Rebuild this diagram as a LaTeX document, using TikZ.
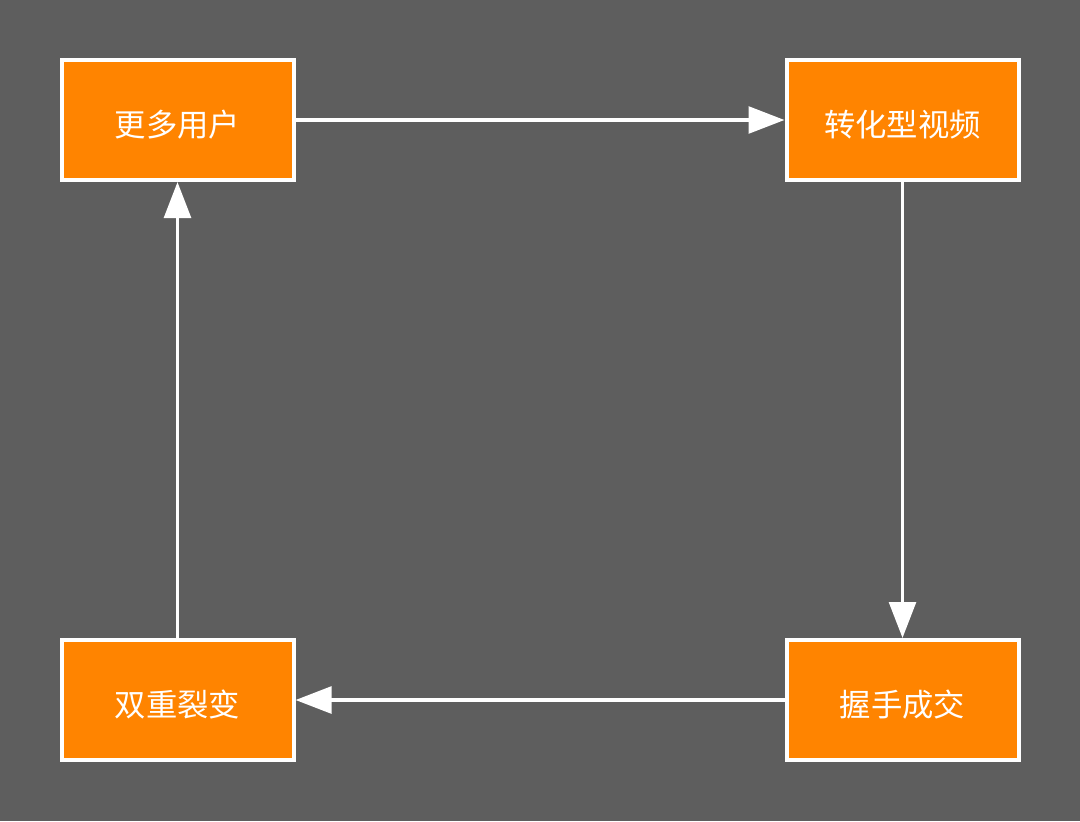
\documentclass[tikz,border=0pt]{standalone}
\usepackage{fontspec}
\newfontfamily\cjk{Noto Sans CJK SC}
\usetikzlibrary{arrows.meta}
\definecolor{bg}{HTML}{5E5E5E}
\definecolor{boxfill}{HTML}{FF8400}
\newcommand\lowtext[1]{\raisebox{-0.52em}[0pt][0pt]{#1}}
\tikzset{
  box/.style={draw=white, line width=3pt, fill=boxfill, minimum width=174pt, minimum height=90pt, inner sep=0pt, text=white, font=\cjk\fontsize{23.5}{28}\selectfont},
  conn/.style={draw=white, line width=2.8pt, -{Triangle[length=27pt,width=20pt]}}
}
\begin{document}
\begin{tikzpicture}[x=0.75pt,y=-0.75pt]
\fill[bg] (0,0) rectangle (1080,821);
\useasboundingbox (0,0) rectangle (1080,821);
\node[box] (a) at (177.5,120) {\lowtext{更多用户}};
\node[box] (b) at (902.5,120) {\lowtext{转化型视频}};
\node[box] (c) at (902.5,700) {\lowtext{握手成交}};
\node[box] (d) at (177.5,700) {\lowtext{双重裂变}};
\draw[conn] (a.east) -- (b.west);
\draw[conn] (b.south) -- (c.north);
\draw[conn] (c.west) -- (d.east);
\draw[conn] (d.north) -- (a.south);
\end{tikzpicture}
\end{document}
